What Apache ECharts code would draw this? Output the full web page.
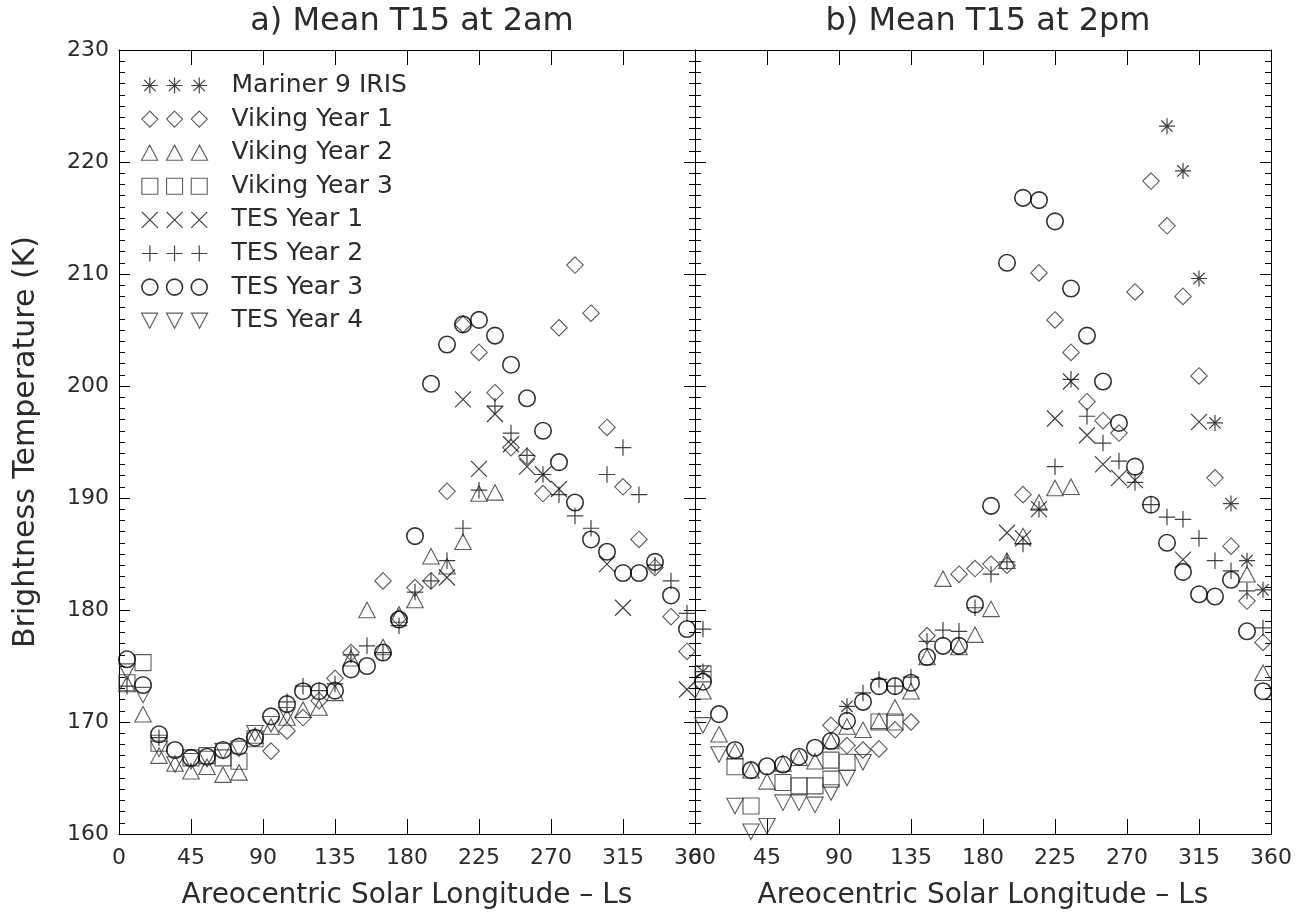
<!DOCTYPE html>
<html><head><meta charset="utf-8">
<script src="https://cdn.jsdelivr.net/npm/echarts@6/dist/echarts.min.js"></script>
<style>html,body{margin:0;padding:0;background:#fff}#c{width:1308px;height:915px}</style>
</head><body><div id="c"></div>
<script>
// ---------- tick labels / titles ----------
const xTickValues = [0, 45, 90, 135, 180, 225, 270, 315, 360];
const yTickValues = [160, 170, 180, 190, 200, 210, 220, 230];
const panelTitles = ['a) Mean T15 at 2am', 'b) Mean T15 at 2pm'];
const xName = 'Areocentric Solar Longitude \u2013 Ls';
const yName = 'Brightness Temperature (K)';
const seriesNames = ['Mariner 9 IRIS','Viking Year 1','Viking Year 2','Viking Year 3','TES Year 1','TES Year 2','TES Year 3','TES Year 4'];

// ---------- data: [Ls, T15] ----------
// panel a) 2am
const mariner_am = [];
const viking1_am = [[95,167.4],[105,169.2],[115,170.4],[125,171.9],[135,173.9],[145,176.2],[165,182.6],[175,179.3],[185,182.0],[195,182.6],[205,190.6],[215,205.5],[225,203.0],[235,199.4],[245,194.5],[255,193.7],[265,190.4],[275,205.2],[285,210.8],[295,206.5],[305,196.3],[315,191.0],[325,186.3],[335,183.8],[345,179.4],[355,176.3]];
const viking2_am = [[5,173.4],[15,170.7],[25,167.0],[35,166.3],[45,165.6],[55,166.0],[65,165.3],[75,165.5],[85,168.8],[95,169.6],[105,170.4],[115,171.1],[125,171.3],[135,172.6],[145,175.7],[155,180.0],[165,176.7],[175,179.6],[185,180.9],[195,184.8],[205,183.9],[215,186.1],[225,190.4],[235,190.5]];
const viking3_am = [[5,173.5],[15,175.3],[25,168.1],[45,166.8],[55,167.0],[65,166.8],[75,166.5],[85,168.5]];
const tes1_am = [[205,182.9],[215,198.8],[225,192.6],[235,197.5],[245,194.8],[255,192.8],[265,192.1],[275,190.8],[305,184.1],[315,180.2],[355,172.9]];
const tes2_am = [[5,173.2],[25,168.6],[105,171.8],[115,173.2],[125,172.8],[135,173.4],[145,176.0],[155,176.8],[165,176.2],[175,178.6],[185,181.6],[195,182.6],[205,184.4],[215,187.3],[225,190.7],[235,198.2],[245,195.8],[255,193.8],[265,192.1],[275,190.3],[285,188.4],[295,187.3],[305,192.1],[315,194.5],[325,190.3],[335,184.0],[345,182.6],[355,179.7]];
const tes3_am = [[5,175.6],[15,173.3],[25,168.9],[35,167.5],[45,166.8],[55,166.9],[65,167.5],[75,167.8],[85,168.6],[95,170.5],[105,171.6],[115,172.75],[125,172.75],[135,172.8],[145,174.7],[155,175.0],[165,176.2],[175,179.15],[185,186.6],[195,200.2],[205,203.7],[215,205.5],[225,205.9],[235,204.5],[245,201.9],[255,198.9],[265,196.0],[275,193.2],[285,189.6],[295,186.3],[305,185.2],[315,183.3],[325,183.3],[335,184.3],[345,181.3],[355,178.3]];
const tes4_am = [[5,174.5],[15,172.4],[25,167.6],[35,166.2],[45,166.5],[55,166.7],[65,167.4],[75,167.6],[85,169.0],[95,169.8],[105,170.6]];

// panel b) 2pm
const mariner_pm = [[5,174.5],[95,171.4],[295,223.2],[305,219.2],[315,209.6],[325,196.7],[335,189.5],[345,184.4],[355,181.8]];
const viking1_pm = [[85,169.7],[95,167.9],[105,167.5],[115,167.6],[125,169.3],[135,170.0],[145,177.7],[165,183.2],[175,183.7],[185,184.1],[195,184.0],[205,190.3],[215,210.1],[225,205.9],[235,203.0],[245,198.6],[255,196.9],[265,195.8],[275,208.4],[285,218.3],[295,214.3],[305,208.0],[315,200.9],[325,191.8],[335,185.7],[345,180.8],[355,177.1]];
const viking2_pm = [[5,172.75],[15,168.9],[25,167.4],[35,165.7],[45,164.7],[55,166.3],[65,166.8],[75,166.5],[85,168.3],[95,169.6],[105,169.3],[115,170.1],[125,171.3],[135,172.75],[145,175.8],[155,182.8],[165,176.7],[175,177.8],[185,180.1],[195,184.4],[205,186.6],[215,189.6],[225,190.9],[235,191.0],[345,183.2],[355,174.4]];
const viking3_pm = [[5,174.3],[25,166.0],[35,162.5],[55,164.6],[65,164.3],[75,164.3],[85,164.9],[85,166.6],[95,166.4],[115,170.0],[125,170.0]];
const tes1_pm = [[195,186.9],[205,186.4],[215,189.0],[225,197.1],[235,200.4],[245,195.6],[255,193.0],[265,191.8],[275,191.6],[305,184.5],[315,196.8]];
const tes2_pm = [[5,178.3],[105,172.6],[115,173.8],[125,173.2],[135,174.0],[145,177.2],[155,178.2],[165,178.1],[175,180.2],[185,183.2],[195,184.3],[205,185.9],[215,189.0],[225,192.8],[235,200.6],[245,197.3],[255,194.9],[265,193.3],[275,191.4],[285,189.4],[295,188.3],[305,188.1],[315,186.4],[325,184.4],[335,183.5],[345,181.7],[355,178.4]];
const tes3_pm = [[5,173.6],[15,170.7],[25,167.5],[35,165.7],[45,166.05],[55,166.2],[65,166.9],[75,167.7],[85,168.3],[95,170.1],[105,171.8],[115,173.2],[125,173.2],[135,173.5],[145,175.8],[155,176.8],[165,176.8],[175,180.5],[185,189.3],[195,211.0],[205,216.8],[215,216.6],[225,214.7],[235,208.7],[245,204.5],[255,200.4],[265,196.7],[275,192.8],[285,189.4],[295,186.0],[305,183.4],[315,181.4],[325,181.2],[335,182.7],[345,178.1],[355,172.75]];
const tes4_pm = [[5,169.7],[15,167.1],[25,162.5],[35,160.2],[45,160.7],[55,162.8],[65,162.8],[75,162.6],[85,163.7],[95,165.0],[105,166.4]];

const amData = [mariner_am, viking1_am, viking2_am, viking3_am, tes1_am, tes2_am, tes3_am, tes4_am];
const pmData = [mariner_pm, viking1_pm, viking2_pm, viking3_pm, tes1_pm, tes2_pm, tes3_pm, tes4_pm];

// ---------- symbol shapes ----------
const shapes = {
  ast:   d => `M${d+8},0L${d+8},16M${d},8L${d+16},8M${d+2.3},2.3L${d+13.7},13.7M${d+13.7},2.3L${d+2.3},13.7`,
  dia:   d => `M${d+8},0L${d+16},8L${d+8},16L${d},8Z`,
  triU:  d => `M${d+8},0L${d+16},15L${d},15Z`,
  sq:    d => `M${d},0L${d+16},0L${d+16},16L${d},16Z`,
  x:     d => `M${d},0L${d+16},16M${d+16},0L${d},16`,
  plus:  d => `M${d+8},0L${d+8},16M${d},8L${d+16},8`,
  circ:  d => `M${d+16},8A8,8 0 1,1 ${d},8A8,8 0 1,1 ${d+16},8Z`,
  triD:  d => `M${d},0L${d+16},0L${d+8},15Z`
};
const shapeKeys = ['ast','dia','triU','sq','x','plus','circ','triD'];
const symSizes = [[16,16],[16.5,16.5],[16.5,15.5],[16,16],[16,16],[16.5,16.5],[16.5,16.5],[16.5,15.5]];
const lineW = [1.2,1.1,1.1,1.1,1.2,1.2,1.6,1.1];
const strokeC = ['#111','#333','#333','#333','#111','#111','#000','#333'];

const FONT = "'DejaVu Sans', sans-serif";
const TXT = '#2b2b2b';

const series = [];
function addSeries(dataSets, xi, yi) {
  dataSets.forEach((d, k) => {
    series.push({
      type: 'scatter', name: seriesNames[k], xAxisIndex: xi, yAxisIndex: yi,
      data: d, symbol: 'path://' + shapes[shapeKeys[k]](0), symbolSize: symSizes[k],
      itemStyle: { color: 'rgba(0,0,0,0)', borderColor: strokeC[k], borderWidth: lineW[k] },
      emphasis: { disabled: true }, silent: true, clip: true
    });
  });
}
addSeries(amData, 0, 0);
addSeries(pmData, 2, 2);

const legendData = seriesNames.map((n, k) => ({
  name: n,
  icon: 'path://' + [0, 24.7, 49.4].map(d => shapes[shapeKeys[k]](d)).join(''),
  itemStyle: { color: 'rgba(0,0,0,0)', borderColor: strokeC[k], borderWidth: lineW[k] }
}));

function xAx(grid, pos, labels, name) {
  return {
    type: 'value', gridIndex: grid, position: pos, min: 0, max: 360, interval: 45,
    axisLine: { show: true, onZero: false, lineStyle: { color: '#000', width: 1 } },
    axisTick: { show: true, inside: true, length: 15, lineStyle: { color: '#000', width: 1 } },
    minorTick: { show: false },
    splitLine: { show: false },
    axisLabel: { show: labels, margin: 13, fontFamily: FONT, fontSize: 22, color: TXT,
                 showMinLabel: true, showMaxLabel: true },
    name: name || '', nameLocation: 'middle', nameGap: 48,
    nameTextStyle: { fontFamily: FONT, fontSize: 28, color: TXT }
  };
}
function yAx(grid, pos, labels, name) {
  return {
    type: 'value', gridIndex: grid, position: pos, min: 160, max: 230, interval: 10,
    axisLine: { show: true, onZero: false, lineStyle: { color: '#000', width: 1 } },
    axisTick: { show: true, inside: true, length: 11, lineStyle: { color: '#000', width: 1 } },
    minorTick: { show: true, splitNumber: 10, length: 6, lineStyle: { color: '#000', width: 1 } },
    splitLine: { show: false },
    axisLabel: { show: labels, margin: 10, fontFamily: FONT, fontSize: 22, color: TXT },
    name: name || '', nameLocation: 'middle', nameGap: 78,
    nameTextStyle: { fontFamily: FONT, fontSize: 30, color: TXT }
  };
}

const option = {
  animation: false,
  backgroundColor: '#fff',
  title: panelTitles.map((t, i) => ({
    text: t, left: i === 0 ? 407 : 983, top: 1, textAlign: 'center',
    textStyle: { fontFamily: FONT, fontSize: 32, fontWeight: 'normal', color: TXT }
  })),
  grid: [
    { left: 119, top: 50, width: 576, height: 784 },
    { left: 695, top: 50, width: 576, height: 784 }
  ],
  xAxis: [
    xAx(0, 'bottom', true, xName),
    xAx(0, 'top', false),
    xAx(1, 'bottom', true, xName),
    xAx(1, 'top', false)
  ],
  yAxis: [
    yAx(0, 'left', true, yName),
    yAx(0, 'right', false),
    yAx(1, 'left', false),
    yAx(1, 'right', false)
  ],
  legend: {
    show: true, orient: 'vertical', left: 141, top: 73, padding: 0,
    itemWidth: 66, itemHeight: 16, itemGap: 8.6, selectedMode: false, align: 'left',
    data: legendData,
    textStyle: { fontFamily: FONT, fontSize: 25, color: TXT, lineHeight: 25, padding: [0, 0, 0, 19] }
  },
  series: series
};

const chart = echarts.init(document.getElementById('c'), null, { renderer: 'canvas' });
chart.setOption(option);
</script></body></html>
